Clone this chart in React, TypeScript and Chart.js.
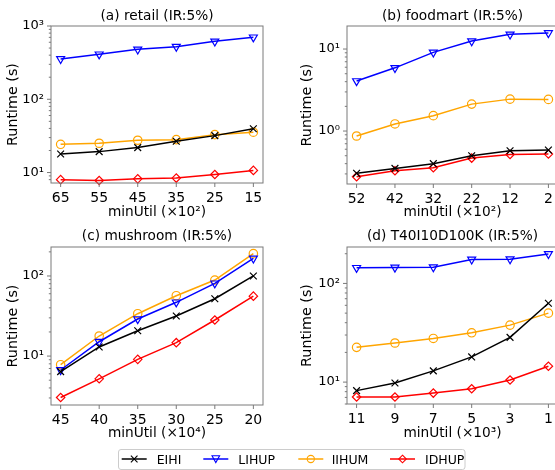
import React, { useEffect, useRef } from 'react';
import { Chart, registerables } from 'chart.js';

Chart.register(...registerables);

// ---------------- data ----------------
const SERIES_NAMES = ['EIHI', 'LIHUP', 'IIHUM', 'IDHUP'];
const SERIES_COLORS = ['#000000', '#0000ff', '#ffa500', '#ff0000'];

// (a) retail
const retailLabels = ['65', '55', '45', '35', '25', '15'];
const retailEIHI = [17.9, 19.3, 21.9, 26.7, 31.9, 39.6];
const retailLIHUP = [355, 411, 480, 522, 617, 701];
const retailIIHUM = [24.3, 25.1, 27.6, 28.1, 32.9, 35.5];
const retailIDHUP = [8.0, 7.8, 8.2, 8.4, 9.4, 10.7];

// (b) foodmart
const foodmartLabels = ['52', '42', '32', '22', '12', '2'];
const foodmartEIHI = [0.305, 0.35, 0.4, 0.5, 0.575, 0.586];
const foodmartLIHUP = [4.07, 5.9, 9.1, 12.5, 15.1, 15.7];
const foodmartIIHUM = [0.87, 1.22, 1.54, 2.13, 2.45, 2.43];
const foodmartIDHUP = [0.277, 0.328, 0.357, 0.468, 0.519, 0.524];

// (c) mushroom
const mushroomLabels = ['45', '40', '35', '30', '25', '20'];
const mushroomEIHI = [6.4, 13.0, 20.7, 31.6, 52, 100];
const mushroomLIHUP = [6.7, 15.1, 29, 46.9, 81, 166];
const mushroomIIHUM = [7.8, 17.8, 33.8, 56.7, 89, 190];
const mushroomIDHUP = [3.04, 5.2, 9.1, 14.7, 28.2, 56];

// (d) T40I10D100K
const t40Labels = ['11', '9', '7', '5', '3', '1'];
const t40EIHI = [8.2, 9.8, 13.0, 18.0, 28.4, 63];
const t40LIHUP = [144, 145, 146, 175, 176, 199];
const t40IIHUM = [22.5, 24.9, 27.7, 31.6, 37.8, 50];
const t40IDHUP = [7.06, 7.06, 7.74, 8.57, 10.5, 14.5];

// ---------------- styles ----------------
const FONT = '"DejaVu Sans", "Noto Sans", sans-serif';
const TEXT = '#000000';
const FRAME = '#7a7a7a';
const POINT_STYLES = ['crossRot', 'triangle', 'circle', 'rectRot'];
const POINT_ROT = [0, 180, 0, 0];
const POINT_RADII = [4.8, 4.6, 4.2, 4.2];

const SUP: Record<string, string> = { '0': '⁰', '1': '¹', '2': '²', '3': '³', '4': '⁴', '5': '⁵', '6': '⁶', '7': '⁷', '8': '⁸', '9': '⁹', '-': '⁻' };
const sup = (n: number) => String(n).split('').map((c) => SUP[c] || c).join('');

function logTicks(min: number, max: number) {
  const out: { value: number; major: boolean }[] = [];
  const d0 = Math.floor(Math.log10(min));
  const d1 = Math.ceil(Math.log10(max));
  for (let d = d0; d <= d1; d++) {
    for (let m = 1; m <= 9; m++) {
      const v = m * Math.pow(10, d);
      if (v >= min * 0.9999 && v <= max * 1.0001) out.push({ value: v, major: m === 1 });
    }
  }
  return out;
}

const decorPlugin = {
  id: 'decor',
  afterDraw(chart: any, _args: any, opts: any) {
    const { ctx, chartArea: a } = chart;
    ctx.save();
    ctx.strokeStyle = FRAME;
    ctx.lineWidth = 1;
    ctx.strokeRect(a.left, a.top, a.right - a.left, a.bottom - a.top);
    const ys = chart.scales.y;
    ys.ticks.forEach((t: any) => {
      const py = ys.getPixelForValue(t.value);
      const len = t.major ? 4 : 2.2;
      ctx.beginPath();
      ctx.moveTo(a.left - len, py);
      ctx.lineTo(a.left, py);
      ctx.stroke();
    });
    const xs = chart.scales.x;
    xs.ticks.forEach((t: any) => {
      const px = xs.getPixelForValue(t.value);
      ctx.beginPath();
      ctx.moveTo(px, a.bottom);
      ctx.lineTo(px, a.bottom + 4);
      ctx.stroke();
    });
    ctx.fillStyle = TEXT;
    ctx.textAlign = 'center';
    ctx.textBaseline = 'middle';
    const cx = (a.left + a.right) / 2;
    ctx.font = `13.7px ${FONT}`;
    ctx.fillText(opts.title, cx, opts.titleY);
    ctx.fillText(opts.xLabel, cx, opts.xLabelY);
    ctx.font = `14.3px ${FONT}`;
    ctx.translate(opts.yLabelX, (a.top + a.bottom) / 2);
    ctx.rotate(-Math.PI / 2);
    ctx.fillText('Runtime (s)', 0, 0);
    ctx.restore();
  },
};

type PanelProps = {
  left: number;
  top: number;
  width: number;
  height: number;
  area: { left: number; top: number; right: number; bottom: number };
  title: string;
  xLabel: string;
  labels: string[];
  series: number[][];
  yMin: number;
  yMax: number;
  titleY: number;
  xLabelY: number;
  yLabelX: number;
};

function Panel(p: PanelProps) {
  const ref = useRef<HTMLCanvasElement | null>(null);
  useEffect(() => {
    if (!ref.current) return;
    const n = p.labels.length;
    const chart = new Chart(ref.current, {
      type: 'line',
      data: {
        datasets: p.series.map((vals, si) => ({
          label: SERIES_NAMES[si],
          data: vals.map((v, i) => ({ x: i, y: v })),
          borderColor: SERIES_COLORS[si],
          backgroundColor: 'rgba(0,0,0,0)',
          borderWidth: 1.5,
          pointStyle: POINT_STYLES[si] as any,
          pointRotation: POINT_ROT[si],
          pointRadius: POINT_RADII[si],
          pointBorderWidth: 1.2,
          pointBorderColor: SERIES_COLORS[si],
          pointBackgroundColor: 'rgba(0,0,0,0)',
          tension: 0,
          fill: false,
          clip: false as any,
        })),
      },
      options: {
        animation: false,
        responsive: false,
        devicePixelRatio: 1,
        layout: {
          padding: { left: 0, top: p.area.top, right: p.width - p.area.right, bottom: 0 },
        },
        plugins: {
          legend: { display: false },
          tooltip: { enabled: false },
          decor: { title: p.title, xLabel: p.xLabel, titleY: p.titleY, xLabelY: p.xLabelY, yLabelX: p.yLabelX },
        } as any,
        scales: {
          x: {
            type: 'linear',
            min: -0.25,
            max: n - 1 + 0.25,
            afterBuildTicks: (s: any) => {
              s.ticks = p.labels.map((_, i) => ({ value: i }));
            },
            afterFit: (s: any) => {
              s.height = p.height - p.area.bottom;
            },
            ticks: {
              autoSkip: false,
              maxRotation: 0,
              padding: 3,
              color: TEXT,
              font: { family: FONT, size: 14 },
              callback: (v: any) => p.labels[Math.round(Number(v))] ?? '',
            },
            grid: { display: false, drawTicks: true, tickLength: 4 },
            border: { display: false },
          },
          y: {
            type: 'logarithmic',
            min: p.yMin,
            max: p.yMax,
            afterBuildTicks: (s: any) => {
              s.ticks = logTicks(p.yMin, p.yMax);
            },
            afterFit: (s: any) => {
              s.width = p.area.left;
            },
            ticks: {
              autoSkip: false,
              padding: 3,
              color: TEXT,
              font: { family: FONT, size: 13 },
              callback: (v: any) => {
                const e = Math.log10(Number(v));
                if (Math.abs(e - Math.round(e)) < 1e-6) return '10' + sup(Math.round(e));
                return '';
              },
            },
            grid: { display: false, drawTicks: true, tickLength: 4 },
            border: { display: false },
          },
        },
      } as any,
      plugins: [decorPlugin as any],
    });
    return () => chart.destroy();
  }, []);
  return (
    <canvas
      ref={ref}
      width={p.width}
      height={p.height}
      style={{ position: 'absolute', left: p.left, top: p.top, width: p.width, height: p.height }}
    />
  );
}

const LEG_LINE_X = [121.7, 203.3, 298.3, 390];
const LEG_TEXT_X = [156.7, 238.3, 331.7, 425];

function LegendMarker({ i, cx, cy }: { i: number; cx: number; cy: number }) {
  const c = SERIES_COLORS[i];
  const sw = 1.1;
  if (i === 0) {
    const r = 3.3;
    return (
      <g stroke={c} strokeWidth={sw}>
        <line x1={cx - r} y1={cy - r} x2={cx + r} y2={cy + r} />
        <line x1={cx - r} y1={cy + r} x2={cx + r} y2={cy - r} />
      </g>
    );
  }
  if (i === 1) {
    return <polygon points={`${cx - 3.8},${cy - 3.2} ${cx + 3.8},${cy - 3.2} ${cx},${cy + 3.6}`} fill="none" stroke={c} strokeWidth={sw} />;
  }
  if (i === 2) return <circle cx={cx} cy={cy} r={3.6} fill="none" stroke={c} strokeWidth={sw} />;
  return <polygon points={`${cx},${cy - 3.8} ${cx + 3.8},${cy} ${cx},${cy + 3.8} ${cx - 3.8},${cy}`} fill="none" stroke={c} strokeWidth={sw} />;
}

function Legend() {
  const cy = 19;
  return (
    <svg style={{ position: 'absolute', left: 0, top: 440 }} width={555} height={30}>
      <rect x={118.5} y={9.5} width={346.5} height={20} rx={2.5} fill="white" stroke="#cccccc" strokeWidth={1} />
      {SERIES_NAMES.map((name, i) => (
        <g key={name}>
          <line x1={LEG_LINE_X[i]} y1={cy} x2={LEG_LINE_X[i] + 25} y2={cy} stroke={SERIES_COLORS[i]} strokeWidth={1.5} />
          <LegendMarker i={i} cx={LEG_LINE_X[i] + 12.5} cy={cy} />
          <text x={LEG_TEXT_X[i]} y={cy} dominantBaseline="central" fontFamily={FONT} fontSize={12.5} fill={TEXT}>
            {name}
          </text>
        </g>
      ))}
    </svg>
  );
}

export default function App() {
  return (
    <div style={{ position: 'fixed', left: 0, top: 0, width: 555, height: 470, overflow: 'hidden', background: '#ffffff' }}>
      <Panel
        left={0}
        top={0}
        width={275}
        height={222}
        area={{ left: 51, top: 26, right: 263, bottom: 183 }}
        title="(a) retail (IR:5%)"
        xLabel="minUtil (×10²)"
        labels={retailLabels}
        series={[retailEIHI, retailLIHUP, retailIIHUM, retailIDHUP]}
        yMin={7.2}
        yMax={1000}
        titleY={16.5}
        xLabelY={212}
        yLabelX={13.5}
      />
      <Panel
        left={275}
        top={0}
        width={295}
        height={222}
        area={{ left: 72, top: 26, right: 283, bottom: 184 }}
        title="(b) foodmart (IR:5%)"
        xLabel="minUtil (×10²)"
        labels={foodmartLabels}
        series={[foodmartEIHI, foodmartLIHUP, foodmartIIHUM, foodmartIDHUP]}
        yMin={0.226}
        yMax={19.1}
        titleY={16.5}
        xLabelY={212}
        yLabelX={32.5}
      />
      <Panel
        left={0}
        top={222}
        width={275}
        height={222}
        area={{ left: 51, top: 25, right: 263, bottom: 183 }}
        title="(c) mushroom (IR:5%)"
        xLabel="minUtil (×10⁴)"
        labels={mushroomLabels}
        series={[mushroomEIHI, mushroomLIHUP, mushroomIIHUM, mushroomIDHUP]}
        yMin={2.45}
        yMax={230}
        titleY={14.5}
        xLabelY={211}
        yLabelX={13}
      />
      <Panel
        left={275}
        top={222}
        width={295}
        height={222}
        area={{ left: 72, top: 25, right: 283, bottom: 182 }}
        title="(d) T40I10D100K (IR:5%)"
        xLabel="minUtil (×10³)"
        labels={t40Labels}
        series={[t40EIHI, t40LIHUP, t40IIHUM, t40IDHUP]}
        yMin={6.0}
        yMax={234}
        titleY={14.5}
        xLabelY={211}
        yLabelX={32}
      />
      <Legend />
    </div>
  );
}
